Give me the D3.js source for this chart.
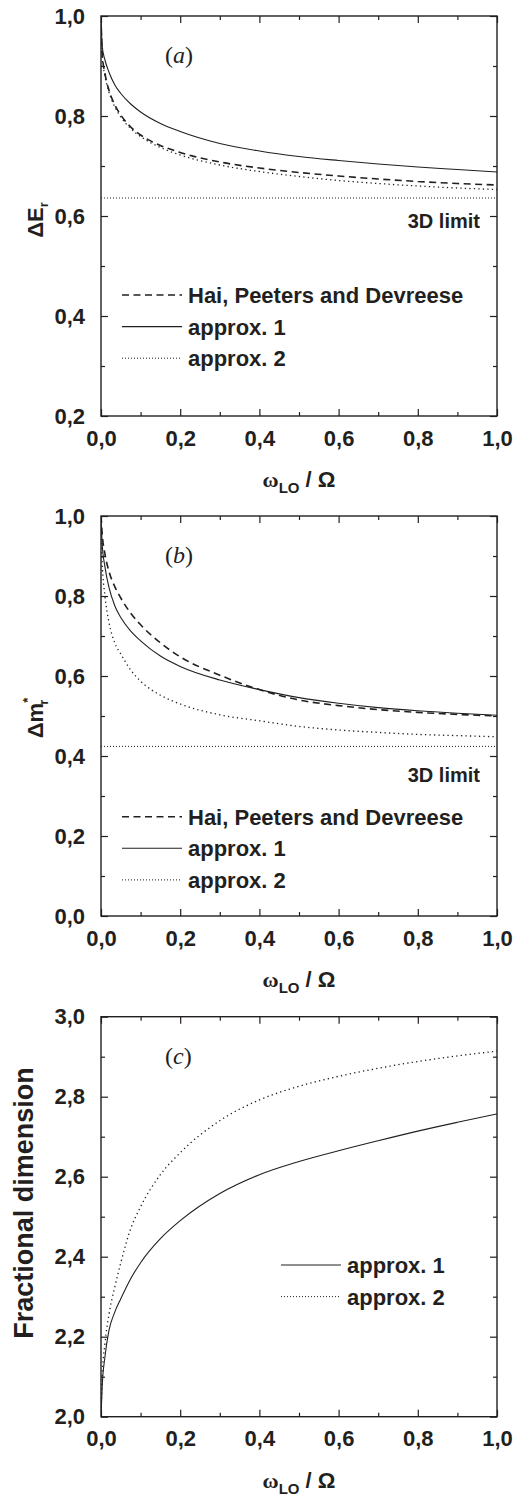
<!DOCTYPE html>
<html><head><meta charset="utf-8">
<script src="https://cdn.jsdelivr.net/npm/d3@7"></script>
<style>
body{margin:0;background:#fff;}
svg{font-family:"Liberation Sans",Arial,Helvetica,sans-serif;font-weight:bold;}
</style></head><body>
<svg id="chart" width="528" height="1499"></svg>
<script>
// ---------- data ----------
const xTicksMajor = [0, 0.2, 0.4, 0.6, 0.8, 1.0];
const xTicksMinor = [0.1, 0.3, 0.5, 0.7, 0.9];
const xGrid = [0, 0.003, 0.01, 0.02, 0.035, 0.05, 0.075, 0.1, 0.15, 0.2, 0.3, 0.4, 0.5, 0.6, 0.7, 0.8, 0.9, 1.0];

// panel (a): Delta E_r
const aHai     = [1.0, 0.925, 0.885, 0.852, 0.822, 0.802, 0.778, 0.762, 0.741, 0.727, 0.708, 0.696, 0.687, 0.680, 0.674, 0.669, 0.665, 0.662];
const aApprox1 = [1.0, 0.940, 0.912, 0.888, 0.862, 0.845, 0.824, 0.808, 0.785, 0.769, 0.745, 0.730, 0.719, 0.711, 0.704, 0.698, 0.693, 0.688];
const aApprox2 = [1.0, 0.920, 0.880, 0.848, 0.818, 0.798, 0.775, 0.759, 0.737, 0.722, 0.702, 0.689, 0.679, 0.671, 0.665, 0.660, 0.656, 0.653];
const aLimit = 0.636;
const aYTicks = [0.2, 0.4, 0.6, 0.8, 1.0];

// panel (b): Delta m*_r
const bHai     = [1.0, 0.955, 0.905, 0.862, 0.823, 0.795, 0.757, 0.728, 0.683, 0.648, 0.602, 0.566, 0.540, 0.526, 0.516, 0.509, 0.504, 0.500];
const bApprox1 = [1.0, 0.930, 0.873, 0.822, 0.775, 0.746, 0.712, 0.688, 0.650, 0.624, 0.590, 0.566, 0.546, 0.532, 0.521, 0.513, 0.507, 0.502];
const bApprox2 = [1.0, 0.885, 0.800, 0.735, 0.682, 0.655, 0.615, 0.587, 0.552, 0.530, 0.503, 0.488, 0.474, 0.465, 0.459, 0.454, 0.451, 0.448];
const bLimit = 0.424;
const bYTicks = [0.0, 0.2, 0.4, 0.6, 0.8, 1.0];

// panel (c): fractional dimension
const cApprox1 = [2.0, 2.075, 2.150, 2.215, 2.262, 2.295, 2.345, 2.385, 2.445, 2.490, 2.558, 2.605, 2.638, 2.665, 2.690, 2.714, 2.736, 2.757];
const cApprox2 = [2.0, 2.100, 2.183, 2.255, 2.325, 2.385, 2.470, 2.525, 2.605, 2.660, 2.740, 2.792, 2.826, 2.851, 2.871, 2.888, 2.902, 2.914];
const cYTicks = [2.0, 2.2, 2.4, 2.6, 2.8, 3.0];

const legendHai = "Hai, Peeters and Devreese";
const legendA1 = "approx. 1";
const legendA2 = "approx. 2";
const limitText = "3D limit";

// ---------- styles ----------
const INK = "#231f20";
const SANS = '"Liberation Sans",Arial,Helvetica,sans-serif';
const SERIF = '"Liberation Serif","Times New Roman",Times,serif';
const styles = {
  hai: {w: 1.6, dash: "7,4.5"},
  a1:  {w: 1.1, dash: null},
  a2:  {w: 1.3, dash: "1.3,3.2"},
  lim: {w: 1.0, dash: "1,2"}
};

const svg = d3.select("#chart");
const L = 101, R = 497, H = 400;
const x = d3.scaleLinear().domain([0, 1]).range([L, R]);
const fmt = v => d3.format(".1f")(v).replace(".", ",");

function panel(opt) {
  const top = opt.top, bottom = top + H;
  const y = d3.scaleLinear().domain(opt.yDomain).range([bottom, top]);
  const g = svg.append("g");
  const clipId = "clip" + opt.id;
  g.append("clipPath").attr("id", clipId).append("rect")
    .attr("x", L).attr("y", top).attr("width", R - L).attr("height", H);

  const yMinor = d3.range(opt.yDomain[0] + 0.1, opt.yDomain[1], 0.2).map(v => +v.toFixed(2));

  const mk = (axisFn, scale, vals, size, withLabels, pad) =>
    axisFn(scale).tickValues(vals).tickSizeInner(-size).tickSizeOuter(0).tickPadding(pad)
      .tickFormat(withLabels ? fmt : "");
  g.append("g").attr("transform", `translate(0,${bottom})`).call(mk(d3.axisBottom, x, xTicksMajor, 7, true, 14));
  g.append("g").attr("transform", `translate(0,${bottom})`).call(mk(d3.axisBottom, x, xTicksMinor, 4, false, 0));
  g.append("g").attr("transform", `translate(0,${top})`).call(mk(d3.axisTop, x, xTicksMajor, 7, false, 0));
  g.append("g").attr("transform", `translate(0,${top})`).call(mk(d3.axisTop, x, xTicksMinor, 4, false, 0));
  g.append("g").attr("transform", `translate(${L},0)`).call(mk(d3.axisLeft, y, opt.yTicks, 7, true, 16));
  g.append("g").attr("transform", `translate(${L},0)`).call(mk(d3.axisLeft, y, yMinor, 4, false, 0));
  g.append("g").attr("transform", `translate(${R},0)`).call(mk(d3.axisRight, y, opt.yTicks, 7, false, 0));
  g.append("g").attr("transform", `translate(${R},0)`).call(mk(d3.axisRight, y, yMinor, 4, false, 0));
  g.selectAll(".domain").remove();
  g.selectAll(".tick line").attr("stroke", INK).attr("stroke-width", 1.2);
  g.selectAll(".tick text").attr("font-size", 22).attr("font-family", SANS)
    .attr("font-weight", "bold").attr("fill", INK);

  g.append("rect").attr("x", L).attr("y", top).attr("width", R - L).attr("height", H)
    .attr("fill", "none").attr("stroke", INK).attr("stroke-width", 1.4);

  const line = d3.line().x((d, i) => x(xGrid[i])).y(d => y(d)).curve(d3.curveMonotoneX);
  const plot = g.append("g").attr("clip-path", `url(#${clipId})`);

  if (opt.limit !== undefined) {
    plot.append("line").attr("x1", x(0)).attr("x2", x(1)).attr("y1", y(opt.limit)).attr("y2", y(opt.limit))
      .attr("stroke", INK).attr("stroke-width", styles.lim.w).attr("stroke-dasharray", styles.lim.dash);
  }
  opt.series.forEach(s => {
    const st = styles[s.style];
    plot.append("path").datum(s.values).attr("d", line).attr("fill", "none")
      .attr("stroke", INK).attr("stroke-width", st.w)
      .attr("stroke-dasharray", st.dash);
  });

  // panel letter
  const pl = g.append("text").attr("x", 165).attr("y", top + 47)
    .attr("font-family", SERIF).attr("font-weight", "normal").attr("fill", INK)
    .attr("font-size", 24);
  pl.append("tspan").text("(");
  pl.append("tspan").attr("font-style", "italic").text(opt.letter);
  pl.append("tspan").text(")");

  if (opt.limitLabelY !== undefined) {
    g.append("text").attr("x", 480).attr("y", opt.limitLabelY).attr("text-anchor", "end")
      .attr("font-size", 20).attr("fill", INK).text(limitText);
  }

  opt.legend.forEach((e, i) => {
    const cy = opt.legendY + i * 31.6;
    const st = styles[e.style];
    g.append("line").attr("x1", opt.legendX).attr("x2", opt.legendX + 60).attr("y1", cy).attr("y2", cy)
      .attr("stroke", INK).attr("stroke-width", e.style === "a2" ? 1.0 : st.w)
      .attr("stroke-dasharray", e.style === "a2" ? "1,2" : st.dash);
    g.append("text").attr("x", opt.legendX + 66).attr("y", cy + 8).attr("font-size", 22)
      .attr("fill", INK).text(e.text);
  });

  const yt = g.append("text").attr("transform", `translate(${opt.yTitleX},${opt.yTitleY}) rotate(-90)`)
    .attr("text-anchor", "middle").attr("font-size", opt.yTitleSize).attr("fill", INK);
  opt.yTitle(yt);

  const xt = g.append("text").attr("x", (L + R) / 2).attr("y", bottom + 71).attr("text-anchor", "middle")
    .attr("font-size", 22).attr("fill", INK);
  xt.append("tspan").attr("font-family", SERIF).text("ω");
  xt.append("tspan").attr("font-size", 15).attr("dy", 6).text("LO");
  xt.append("tspan").attr("dy", -6).text(" / Ω");
}

panel({
  id: "a", top: 16, yDomain: [0.2, 1.0], yTicks: aYTicks, letter: "a", limit: aLimit, limitLabelY: 228,
  series: [{values: aHai, style: "hai"}, {values: aApprox1, style: "a1"}, {values: aApprox2, style: "a2"}],
  legend: [{text: legendHai, style: "hai"}, {text: legendA1, style: "a1"}, {text: legendA2, style: "a2"}],
  legendX: 122, legendY: 295,
  yTitleX: 43, yTitleY: 220, yTitleSize: 22,
  yTitle: t => { t.append("tspan").text("ΔE"); t.append("tspan").attr("font-size", 13).attr("dy", 5).text("r"); }
});
panel({
  id: "b", top: 516, yDomain: [0.0, 1.0], yTicks: bYTicks, letter: "b", limit: bLimit, limitLabelY: 782,
  series: [{values: bHai, style: "hai"}, {values: bApprox1, style: "a1"}, {values: bApprox2, style: "a2"}],
  legend: [{text: legendHai, style: "hai"}, {text: legendA1, style: "a1"}, {text: legendA2, style: "a2"}],
  legendX: 122, legendY: 816.7,
  yTitleX: 43, yTitleY: 718, yTitleSize: 22,
  yTitle: t => { t.append("tspan").text("Δm");
                 t.append("tspan").attr("font-size", 13).attr("dy", -11).text("*");
                 t.append("tspan").attr("font-size", 13).attr("dx", -7).attr("dy", 16).text("r"); }
});
panel({
  id: "c", top: 1016.7, yDomain: [2.0, 3.0], yTicks: cYTicks, letter: "c",
  series: [{values: cApprox1, style: "a1"}, {values: cApprox2, style: "a2"}],
  legend: [{text: legendA1, style: "a1"}, {text: legendA2, style: "a2"}],
  legendX: 281, legendY: 1265,
  yTitleX: 33, yTitleY: 1203, yTitleSize: 27,
  yTitle: t => { t.text("Fractional dimension"); }
});
</script>
</body></html>
